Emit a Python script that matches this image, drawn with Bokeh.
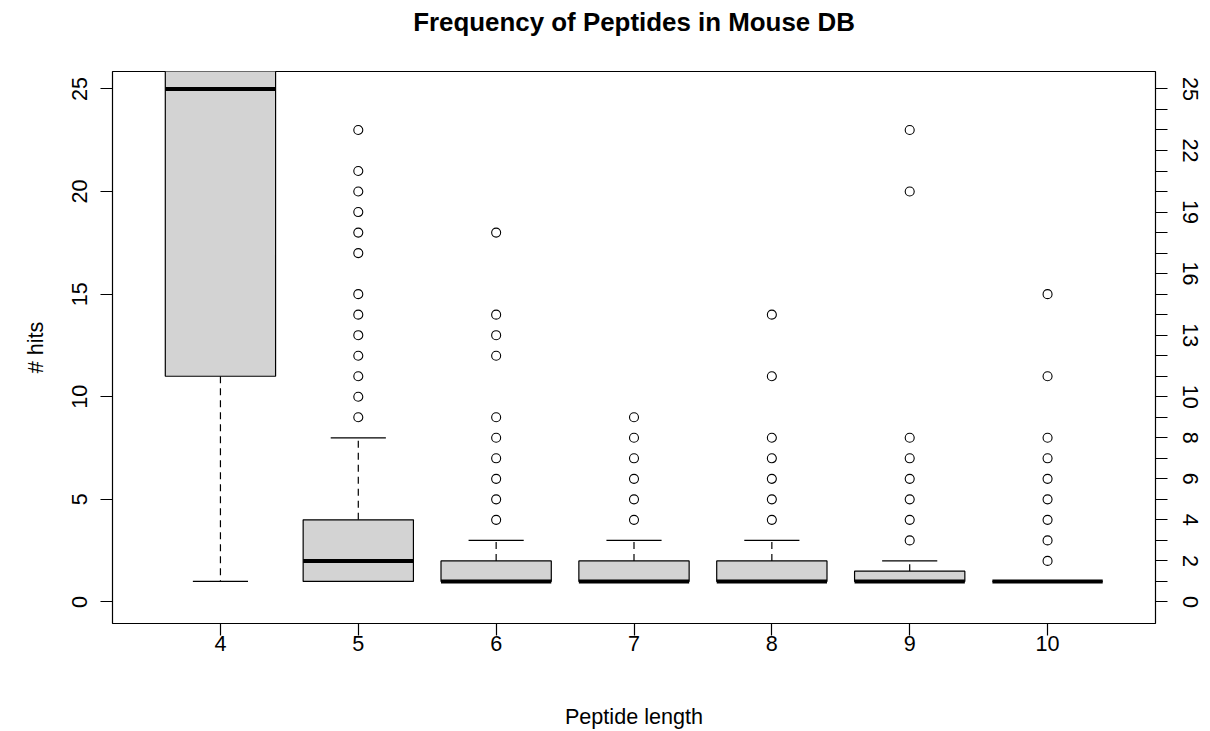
from bokeh.plotting import figure
from bokeh.models import Range1d, FixedTicker, LinearAxis, ColumnDataSource, Title
from bokeh.embed import file_html
from bokeh.resources import INLINE

# ---- data ----
lengths = [4, 5, 6, 7, 8, 9, 10]
q1 = [11, 1, 1, 1, 1, 1, 1]
median = [25, 2, 1, 1, 1, 1, 1]
q3 = [40, 4, 2, 2, 2, 1.5, 1]
whisk_lo = [1, 1, 1, 1, 1, 1, 1]
whisk_hi = [80, 8, 3, 3, 3, 2, 1]
outliers = {
    4: [],
    5: [9, 10, 11, 12, 13, 14, 15, 17, 18, 19, 20, 21, 23],
    6: [4, 5, 6, 7, 8, 9, 12, 13, 14, 18],
    7: [4, 5, 6, 7, 8, 9],
    8: [4, 5, 6, 7, 8, 11, 14],
    9: [3, 4, 5, 6, 7, 8, 20, 23],
    10: [2, 3, 4, 5, 6, 7, 8, 11, 15],
}
left_ticks = [0, 5, 10, 15, 20, 25]
right_ticks = list(range(0, 26))
right_labels = [0, 2, 4, 6, 8, 10, 13, 16, 19, 22, 25]

title_text = "Frequency of Peptides in Mouse DB"
x_title = "Peptide length"
y_title = "# hits"

BOX_W = 0.8
CAP_W = 0.4
FONT = "Liberation Sans"
FS = "21.6px"

p = figure(width=1210, height=731, output_backend="svg", toolbar_location=None,
           x_range=Range1d(3.217, 10.783), y_range=Range1d(-1.05, 25.85),
           min_border_left=112, min_border_right=55, min_border_top=71, min_border_bottom=107)
p.background_fill_color = "white"
p.border_fill_color = "white"
p.outline_line_color = "black"
p.outline_line_width = 1.2
p.xgrid.visible = False
p.ygrid.visible = False

# spacer (nearest the frame) then the chart title
p.add_layout(Title(text=" ", text_font_size="1px", standoff=33), "above")
p.add_layout(Title(text=title_text, align="center", standoff=0, vertical_align="bottom",
                   text_font=FONT, text_font_size="25.9px", text_font_style="bold",
                   text_color="black"), "above")

src = ColumnDataSource(dict(
    x=lengths, q1=q1, med=median, q3=q3, lo=whisk_lo, hi=whisk_hi,
    left=[v - BOX_W / 2 for v in lengths], right=[v + BOX_W / 2 for v in lengths],
    cl=[v - CAP_W / 2 for v in lengths], cr=[v + CAP_W / 2 for v in lengths],
))

# whiskers (dashed)
p.segment(x0="x", y0="q3", x1="x", y1="hi", source=src, line_color="black",
          line_width=1.2, line_dash="7 5")
p.segment(x0="x", y0="q1", x1="x", y1="lo", source=src, line_color="black",
          line_width=1.2, line_dash="7 5")
# caps
p.segment(x0="cl", y0="hi", x1="cr", y1="hi", source=src, line_color="black", line_width=1.2)
p.segment(x0="cl", y0="lo", x1="cr", y1="lo", source=src, line_color="black", line_width=1.2)
# boxes
p.quad(left="left", right="right", bottom="q1", top="q3", source=src,
       fill_color="#D3D3D3", line_color="black", line_width=1.2)
# medians
p.segment(x0="left", y0="med", x1="right", y1="med", source=src, line_color="black",
          line_width=4, line_cap="butt")

# outliers
ox, oy = [], []
for k in lengths:
    for v in outliers[k]:
        ox.append(k)
        oy.append(v)
p.scatter(ox, oy, marker="circle", size=9, fill_color=None, line_color="black", line_width=1.1)

def style_axis(ax):
    ax.axis_line_color = None
    ax.major_tick_line_color = "black"
    ax.major_tick_line_width = 1.2
    ax.major_tick_in = 0
    ax.major_tick_out = 12
    ax.minor_tick_line_color = None
    ax.major_label_text_font = FONT
    ax.major_label_text_font_size = FS
    ax.major_label_text_color = "black"
    ax.axis_label_text_font = FONT
    ax.axis_label_text_font_size = FS
    ax.axis_label_text_font_style = "normal"
    ax.axis_label_text_color = "black"

xa = p.xaxis[0]
style_axis(xa)
xa.ticker = FixedTicker(ticks=lengths)
xa.axis_label = x_title
xa.major_label_standoff = 0
xa.axis_label_standoff = 50

ya = p.yaxis[0]
style_axis(ya)
ya.ticker = FixedTicker(ticks=left_ticks)
ya.axis_label = y_title
ya.major_label_orientation = "vertical"
ya.major_label_standoff = 13
ya.axis_label_standoff = 22

ra = LinearAxis()
style_axis(ra)
ra.ticker = FixedTicker(ticks=right_ticks)
ra.major_label_overrides = {t: (str(t) if t in right_labels else "") for t in right_ticks}
ra.major_label_orientation = "vertical"
ra.major_label_standoff = 15
p.add_layout(ra, "right")

open("out.html", "w").write(file_html(p, INLINE))
